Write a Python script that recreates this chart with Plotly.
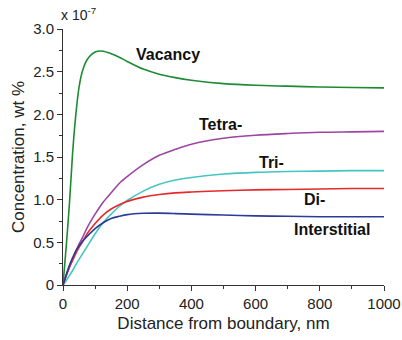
import plotly.graph_objects as go

distance = [0, 10, 20, 30, 40, 50, 60, 75, 100, 125, 150, 175, 200, 250, 300, 350, 400, 500, 600, 700, 800, 900, 1000]
vacancy = [0, 0.45, 0.95, 1.55, 2.00, 2.32, 2.50, 2.64, 2.73, 2.74, 2.71, 2.67, 2.62, 2.53, 2.47, 2.43, 2.40, 2.36, 2.34, 2.33, 2.32, 2.315, 2.31]
tetra = [0, 0.11, 0.21, 0.30, 0.39, 0.48, 0.55, 0.67, 0.83, 0.97, 1.08, 1.19, 1.27, 1.41, 1.52, 1.59, 1.65, 1.72, 1.755, 1.775, 1.79, 1.795, 1.80]
tri = [0, 0.05, 0.11, 0.17, 0.24, 0.30, 0.36, 0.45, 0.60, 0.73, 0.83, 0.92, 0.99, 1.10, 1.18, 1.23, 1.26, 1.30, 1.32, 1.33, 1.335, 1.34, 1.34]
di = [0, 0.11, 0.21, 0.29, 0.37, 0.44, 0.50, 0.60, 0.72, 0.82, 0.89, 0.94, 0.98, 1.03, 1.06, 1.08, 1.09, 1.105, 1.115, 1.12, 1.125, 1.13, 1.13]
interstitial = [0, 0.12, 0.23, 0.32, 0.40, 0.46, 0.51, 0.57, 0.66, 0.73, 0.78, 0.805, 0.825, 0.84, 0.842, 0.837, 0.83, 0.82, 0.81, 0.805, 0.80, 0.80, 0.80]

series_names = ["Vacancy", "Tetra-", "Tri-", "Di-", "Interstitial"]
series_values = [vacancy, tetra, tri, di, interstitial]
colors = ["#1e8b34", "#9c45a3", "#45c6c3", "#e42a2c", "#2a3c96"]
label_pos = [(327, 2.70), (491, 1.88), (650, 1.44), (784, 1.00), (838, 0.65)]

x_ticks = [0, 200, 400, 600, 800, 1000]
x_ticktext = ["0", "200", "400", "600", "800", "1000"]
y_ticks = [0, 0.5, 1.0, 1.5, 2.0, 2.5, 3.0]
y_ticktext = ["0", "0.5", "1.0", "1.5", "2.0", "2.5", "3.0"]

FONT = "Liberation Sans, Arial, sans-serif"
fig = go.Figure()
for name, vals, col in zip(series_names, series_values, colors):
    fig.add_trace(go.Scatter(x=distance, y=vals, mode="lines", name=name,
                             line=dict(color=col, width=1.6, shape="spline", smoothing=0.8)))

for name, (lx, ly) in zip(series_names, label_pos):
    fig.add_annotation(x=lx, y=ly, text="<b>%s</b>" % name, showarrow=False,
                       font=dict(family=FONT, size=16, color="#111"), xanchor="center", yanchor="middle")

fig.add_annotation(xref="paper", yref="paper", x=-0.012, y=1.06, text="x 10<sup>-7</sup>",
                   showarrow=False, xanchor="left", yanchor="middle",
                   font=dict(family=FONT, size=14, color="#222"))
fig.add_annotation(xref="paper", yref="paper", x=-0.14, y=0.5, text="Concentration, wt %",
                   showarrow=False, textangle=-90, xanchor="center", yanchor="middle",
                   font=dict(family=FONT, size=17, color="#222"))

axis_common = dict(showline=True, linecolor="#333", linewidth=1, ticks="outside", ticklen=5,
                   tickcolor="#333", showgrid=False, zeroline=False, automargin=False,
                   tickfont=dict(family=FONT, size=15, color="#222"))
fig.update_xaxes(range=[0, 1000], tickvals=x_ticks, ticktext=x_ticktext,
                 minor=dict(dtick=100, ticks="outside", ticklen=3, tickcolor="#333"),
                 title=dict(text="Distance from boundary, nm", font=dict(family=FONT, size=17, color="#222"), standoff=6),
                 **axis_common)
fig.update_yaxes(range=[0, 3.0], tickvals=y_ticks, ticktext=y_ticktext,
                 minor=dict(dtick=0.25, ticks="outside", ticklen=3, tickcolor="#333"),
                 **axis_common)
fig.update_layout(width=402, height=340, margin=dict(l=63, r=18, t=29, b=55),
                  plot_bgcolor="white", paper_bgcolor="white", showlegend=False)
fig.write_html("out.html")
